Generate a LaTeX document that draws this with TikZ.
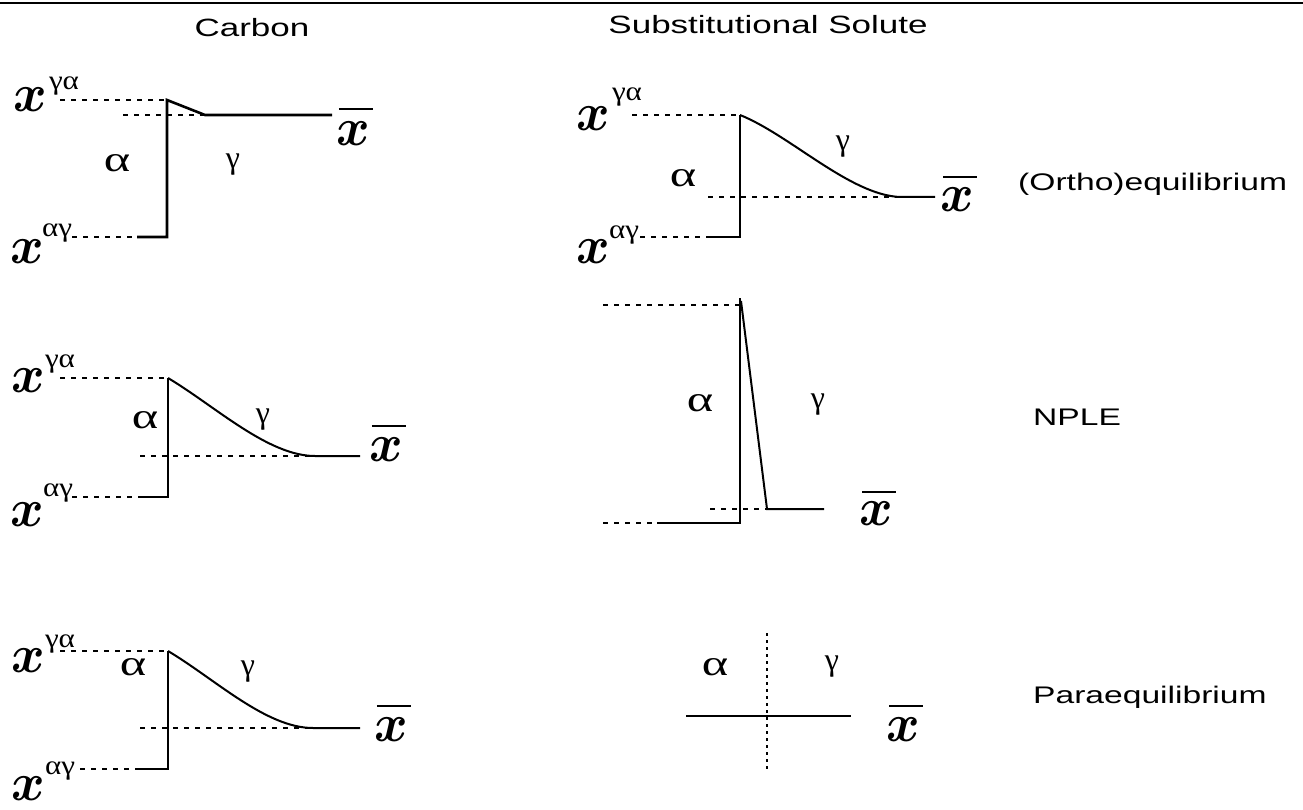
\documentclass[tikz,border=0pt]{standalone}
\usepackage{fontspec}
\setmainfont{Liberation Sans}
\newfontfamily\serifx{Liberation Serif}
\newcommand\wide[2][1.4]{\scalebox{#1}[1]{#2}}
\tikzset{
  hdr/.style={inner sep=0, anchor=base, font=\fontsize{25}{30}\selectfont},
  side/.style={inner sep=0, anchor=base west, font=\fontsize{24}{30}\selectfont},
  xv/.style={inner sep=0, font=\fontsize{24.88}{30}\selectfont},
  supl/.style={inner sep=0, font=\serifx\fontsize{27}{30}\selectfont},
  ga/.style={inner sep=0, font=\serifx\fontsize{36}{40}\selectfont},
  gg/.style={inner sep=0, font=\serifx\fontsize{32}{36}\selectfont},
  prof/.style={line width=2.6pt, line join=miter},
  sprof/.style={line width=2pt},
  dsh/.style={line width=1.7pt, dash pattern=on 5pt off 6pt},
  dott/.style={line width=1.8pt, dash pattern=on 3pt off 4pt},
  xbar/.style={line width=2.5pt},
  rule/.style={line width=2pt}
}
\newcommand\Xv{\scalebox{2.05}[2.15]{\boldmath$x$}}
\begin{document}
\begin{tikzpicture}[x=1pt,y=-1pt]
\useasboundingbox (0,0) rectangle (1303,810);
\coordinate (tl) at (0,3); \coordinate (tr) at (1303,3);
\draw[rule] (tl) -- (tr);
% headers
\node[hdr] (carbon) at (252,37) {\wide{Carbon}};
\node[hdr] (subst) at (768,34) {\wide{Substitutional Solute}};
\node[side] (ortho) at (1018,191) {\wide{(Ortho)equilibrium}};
\node[side] (nple) at (1033,425) {\wide{NPLE}};
\node[side] (para) at (1033,703) {\wide{Paraequilibrium}};

% ---------- C1 ----------
\node[xv] (c1xga) at (30,100) {\Xv};
\node[supl] (c1sga) at (64,86) {\wide[1.15]{γα}};
\node[xv] (c1xag) at (27,252) {\Xv};
\node[supl] (c1sag) at (57,233) {\wide[1.15]{αγ}};
\coordinate (c1a) at (137,237); \coordinate (c1b) at (167,237);
\coordinate (c1c) at (167,100); \coordinate (c1d) at (205,115);
\coordinate (c1e) at (332,115);
\coordinate (c1g) at (60,100); \coordinate (c1f) at (123,115); \coordinate (c1h) at (72,237);
\draw[prof] (c1a) -- (c1b) -- (c1c) -- (c1d) -- (c1e);
\draw[dsh] (c1g) -- (c1c);
\draw[dsh] (c1f) -- (c1d);
\draw[dsh] (c1h) -- (c1a);
\node[ga] (c1al) at (117,163) {\wide{α}};
\node[gg] (c1gl) at (233,165) {γ};
\node[xv] (c1xb) at (353,134) {\Xv};
\draw[xbar] ([xshift=3pt,yshift=13pt]c1xb.north west) -- ([xshift=3pt,yshift=13pt]c1xb.north east);

% ---------- C2 ----------
\node[xv] (c2xga) at (28,381) {\Xv};
\node[supl] (c2sga) at (60,364) {\wide[1.15]{γα}};
\node[xv] (c2xag) at (27,515) {\Xv};
\node[supl] (c2sag) at (58,493) {\wide[1.15]{αγ}};
\coordinate (c2a) at (140,497); \coordinate (c2b) at (168,497);
\coordinate (c2c) at (168,378); \coordinate (c2d) at (315,456);
\coordinate (c2e) at (360,456);
\coordinate (c2g) at (60,378); \coordinate (c2h) at (72,497); \coordinate (c2f) at (140,456);
\draw[prof] (c2a) -- (c2b) -- (c2c);
\draw[sprof] (c2c) .. controls (215,406) and (268,456) .. (c2d) -- (c2e);
\draw[dsh] (c2g) -- (c2c);
\draw[dsh] (c2h) -- (c2a);
\draw[dsh] (c2f) -- (c2d);
\node[ga] (c2al) at (145,420) {\wide{α}};
\node[gg] (c2gl) at (263,420) {γ};
\node[xv] (c2xb) at (386,450) {\Xv};
\draw[xbar] ([xshift=3pt,yshift=12pt]c2xb.north west) -- ([xshift=3pt,yshift=12pt]c2xb.north east);

% ---------- C3 ----------
\node[xv] (c3xga) at (28,661) {\Xv};
\node[supl] (c3sga) at (60,644) {\wide[1.15]{γα}};
\node[xv] (c3xag) at (28,789) {\Xv};
\node[supl] (c3sag) at (60,771) {\wide[1.15]{αγ}};
\coordinate (c3a) at (140,769); \coordinate (c3b) at (168,769);
\coordinate (c3c) at (168,651); \coordinate (c3d) at (313,728);
\coordinate (c3e) at (360,728);
\coordinate (c3g) at (60,651); \coordinate (c3h) at (80,769); \coordinate (c3f) at (140,728);
\draw[prof] (c3a) -- (c3b) -- (c3c);
\draw[sprof] (c3c) .. controls (215,679) and (266,728) .. (c3d) -- (c3e);
\draw[dsh] (c3g) -- (c3c);
\draw[dsh] (c3h) -- (c3a);
\draw[dsh] (c3f) -- (c3d);
\node[ga] (c3al) at (133,667) {\wide{α}};
\node[gg] (c3gl) at (248,672) {γ};
\node[xv] (c3xb) at (391,730) {\Xv};
\draw[xbar] ([xshift=3pt,yshift=12pt]c3xb.north west) -- ([xshift=3pt,yshift=12pt]c3xb.north east);

% ---------- S1 ----------
\node[xv] (s1xga) at (593,119) {\Xv};
\node[supl] (s1sga) at (627,97) {\wide[1.15]{γα}};
\node[xv] (s1xag) at (593,252) {\Xv};
\node[supl] (s1sag) at (624,235) {\wide[1.15]{αγ}};
\coordinate (s1a) at (708,237); \coordinate (s1b) at (740,237);
\coordinate (s1c) at (740,115); \coordinate (s1d) at (900,197);
\coordinate (s1e) at (935,197);
\coordinate (s1g) at (632,115); \coordinate (s1h) at (640,237); \coordinate (s1f) at (708,197);
\draw[sprof] (s1a) -- (s1b) -- (s1c);
\draw[sprof] (s1c) .. controls (790,135) and (850,195) .. (s1d) -- (s1e);
\draw[dsh] (s1g) -- (s1c);
\draw[dsh] (s1h) -- (s1a);
\draw[dsh] (s1f) -- (s1d);
\node[ga] (s1al) at (683,178) {\wide{α}};
\node[gg] (s1gl) at (843,147) {γ};
\node[xv] (s1xb) at (957,200) {\Xv};
\draw[xbar] ([xshift=3pt,yshift=11pt]s1xb.north west) -- ([xshift=3pt,yshift=11pt]s1xb.north east);

% ---------- S2 (NPLE) ----------
\coordinate (s2a) at (657,523); \coordinate (s2b) at (740,523);
\coordinate (s2c) at (740,298); \coordinate (s2d) at (741,301);
\coordinate (s2e) at (767,509); \coordinate (s2f) at (824,509);
\coordinate (s2g) at (603,305); \coordinate (s2k) at (740,305);
\coordinate (s2h) at (710,509); \coordinate (s2i) at (603,523);
\draw[sprof] (s2a) -- (s2b) -- (s2c);
\draw[sprof] (s2d) -- (s2e) -- (s2f);
\draw[dsh] (s2g) -- (s2k);
\draw[dsh] (s2h) -- (s2e);
\draw[dsh] (s2i) -- (s2a);
\node[ga] (s2al) at (700,403) {\wide{α}};
\node[gg] (s2gl) at (818,405) {γ};
\node[xv] (s2xb) at (876,514) {\Xv};
\draw[xbar] ([xshift=3pt,yshift=10pt]s2xb.north west) -- ([xshift=3pt,yshift=10pt]s2xb.north east);

% ---------- S3 (Para) ----------
\coordinate (s3t) at (767,633); \coordinate (s3b) at (767,770);
\coordinate (s3l) at (686,716); \coordinate (s3r) at (851,716);
\draw[dott] (s3t) -- (s3b);
\draw[sprof] (s3l) -- (s3r);
\node[ga] (s3al) at (715,667) {\wide{α}};
\node[gg] (s3gl) at (832,667) {γ};
\node[xv] (s3xb) at (903,730) {\Xv};
\draw[xbar] ([xshift=3pt,yshift=12pt]s3xb.north west) -- ([xshift=3pt,yshift=12pt]s3xb.north east);
\end{tikzpicture}
\end{document}
